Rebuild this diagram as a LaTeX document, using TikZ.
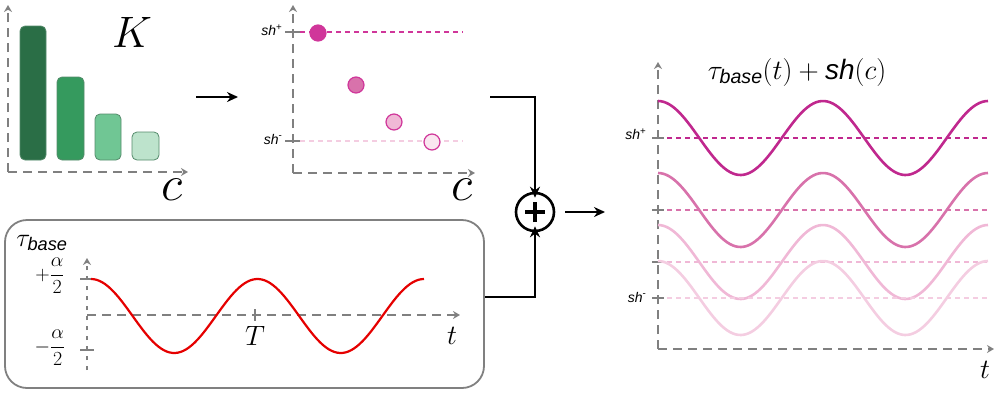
\documentclass[tikz,border=0pt]{standalone}
\usepackage{fix-cm}
\usepackage{amsmath}
\usepackage{fontspec}
\setsansfont{Liberation Sans}
\usetikzlibrary{arrows.meta}
\definecolor{grA}{HTML}{2A6E46}
\definecolor{grB}{HTML}{359A5E}
\definecolor{grC}{HTML}{70C694}
\definecolor{grD}{HTML}{BDE3CC}
\definecolor{pkA}{HTML}{C0288E}
\definecolor{pkB}{HTML}{D872AB}
\definecolor{pkC}{HTML}{F0B8D6}
\definecolor{pkD}{HTML}{F4CDE1}
\definecolor{dotA}{HTML}{D0369A}
\definecolor{axgray}{HTML}{808080}
\newcommand{\shlab}[1]{\fontsize{14}{14}\selectfont\sffamily\itshape sh\textsuperscript{\upshape #1}}
\newcommand{\sbase}{\text{\sffamily\itshape base}}
\tikzset{axis/.style={axgray, line width=2.6pt, dash pattern=on 9pt off 6pt, -{Stealth[length=7pt,width=8pt]}},
  next/.style={line width=2pt, -{Stealth[length=11pt,width=10pt]}},
  bar/.style={rounded corners=5pt, draw=grA!80, line width=.8pt},
  dot/.style={circle, minimum size=16pt, inner sep=0pt, line width=1.2pt, draw=dotA},
  level/.style={line width=1.2pt, dash pattern=on 5pt off 4pt},
  wave/.style={line width=2.6pt},
  lab/.style={font=\fontsize{28}{28}\selectfont},
  tick/.style={axgray, line width=1.5pt}}
\begin{document}
\begin{tikzpicture}[x=1pt,y=-1pt]
  \useasboundingbox (0,0) rectangle (997,400);
  % --- bar chart K ---
  \coordinate (O1) at (8,172);
  \draw[axis] (O1) -- (8,5);
  \draw[axis] (O1) -- (188,172);
  \draw[bar, fill=grA] (20,160) rectangle (46,26);
  \draw[bar, fill=grB] (57,160) rectangle (84,77);
  \draw[bar, fill=grC] (95,160) rectangle (121,114);
  \draw[bar, fill=grD] (132,160) rectangle (159,132);
  \node[font=\fontsize{44}{44}\selectfont] (K) at (132,32) {$K$};
  \node[font=\fontsize{50}{50}\selectfont] (c1) at (172,190) {$c$};
  \coordinate (a1) at (196,97);
  \coordinate (a2) at (238,97);
  \draw[next] (a1) -- (a2);
  % --- shift per class ---
  \coordinate (O2) at (293,173);
  \draw[axis] (O2) -- (293,5);
  \draw[axis] (O2) -- (475,173);
  \draw[tick] (285,32) -- (300,32) (285,141) -- (300,141);
  \draw[level, dotA] (300,32) -- (463,32);
  \draw[level, pkD] (300,141) -- (463,141);
  \node[anchor=east] (shp) at (286,30) {\shlab{+}};
  \node[anchor=east] (shm) at (286,139) {\shlab{-}};
  \node[dot, fill=dotA] (d1) at (318,33) {};
  \node[dot, fill=pkB] (d2) at (356,85) {};
  \node[dot, fill=pkC] (d3) at (394,122) {};
  \node[dot, fill=pkD!50] (d4) at (432,142) {};
  \node[font=\fontsize{50}{50}\selectfont] (c2) at (462,190) {$c$};
  % --- sum ---
  \node[circle, draw, line width=2.6pt, minimum size=38pt, inner sep=0pt] (plus) at (535,212) {};
  \draw[line width=4.5pt] ([xshift=-10pt]plus.center) -- ([xshift=10pt]plus.center)
                          ([yshift=-10pt]plus.center) -- ([yshift=10pt]plus.center);
  \coordinate (s1) at (490,97);
  \coordinate (s2) at (485,297);
  \draw[next] (s1) -| ([yshift=-6pt]plus.north);
  \draw[next] (s2) -| ([yshift=6pt]plus.south);
  \coordinate (s3) at (605,212);
  \draw[next] ([xshift=10pt]plus.east) -- (s3);
  % --- base wave box ---
  \draw[axgray, line width=1.8pt, rounded corners=22pt] (5,220) rectangle (484,388);
  \coordinate (O3) at (87,315);
  \draw[axis, dash pattern=on 4pt off 6pt, line width=2pt] (87,370) -- (87,258);
  \draw[axis] (O3) -- (460,315);
  \draw[tick] (80,279) -- (94,279) (80,350) -- (94,350) (255,309) -- (255,321);
  \draw[wave, red!90!black, line width=2.2pt] plot[domain=0:333, samples=120] ({91+\x},{316-37*cos(\x/166.5*360)});
  \node (tb) at (42,243) {\fontsize{26}{26}\selectfont$\tau_{\sbase}$};
  \node (ap) at (50,276) {\fontsize{20}{20}\selectfont$+\dfrac{\alpha}{2}$};
  \node (am) at (50,348) {\fontsize{20}{20}\selectfont$-\dfrac{\alpha}{2}$};
  \node[lab] (T) at (255,336) {$T$};
  \node[lab] (t1) at (452,336) {$t$};
  % --- shifted waves ---
  \coordinate (O4) at (658,349);
  \draw[axis] (O4) -- (658,62);
  \draw[axis] (O4) -- (994,349);
  \foreach \c/\col in {138/pkA,210/pkB,262/pkC,298/pkD} {
    \draw[level, \col] (658,\c) -- (988,\c);
    \draw[tick] (652,\c) -- (664,\c);
    \draw[wave, \col] plot[domain=0:330, samples=120] ({658+\x},{\c-37*cos(\x/165*360)});
  }
  \node[anchor=east] (shp2) at (650,134) {\shlab{+}};
  \node[anchor=east] (shm2) at (650,297) {\shlab{-}};
  \node[lab] (sum) at (797,72) {$\tau_{\sbase}(t)+\text{\sffamily\itshape sh}(c)$};
  \node[lab] (t2) at (985,370) {$t$};
\end{tikzpicture}
\end{document}
